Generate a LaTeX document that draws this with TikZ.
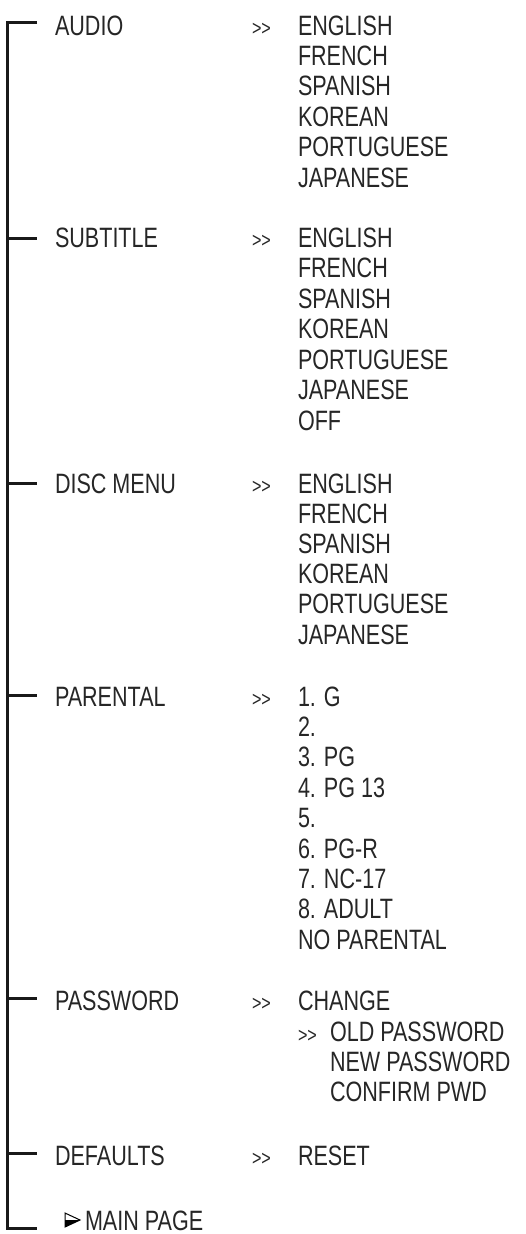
\documentclass[tikz,border=0pt]{standalone}
\usepackage{fontspec}
\setmainfont{Liberation Sans}[FakeStretch=0.77]
\begin{document}
\begin{tikzpicture}[x=1pt,y=-1pt,
  lbl/.style={anchor=base west,inner sep=0pt,outer sep=0pt,text=black!85,font=\fontsize{28}{30}\selectfont},
  arr/.style={anchor=base west,inner sep=0pt,outer sep=0pt,text=black!85,font=\fontsize{21}{30}\selectfont},
  branch/.style={line width=3pt,black!90,line cap=butt}]
\useasboundingbox (0,0) rectangle (526,1234);
% menu titles
\node[lbl] (audio) at (55,35) {AUDIO};
\node[lbl] (subtitle) at (55,247) {SUBTITLE};
\node[lbl] (disc) at (55,493) {DISC MENU};
\node[lbl] (parental) at (55,706) {PARENTAL};
\node[lbl] (password) at (55,1010) {PASSWORD};
\node[lbl] (defaults) at (55,1165) {DEFAULTS};
\node[lbl] (main) at (85,1230) {MAIN PAGE};
% >> markers
\node[arr] (a1) at (252,35) {>{}>};
\node[arr] (a2) at (252,247) {>{}>};
\node[arr] (a3) at (252,493) {>{}>};
\node[arr] (a4) at (252,706) {>{}>};
\node[arr] (a5) at (252,1010) {>{}>};
\node[arr] (a6) at (252,1165) {>{}>};
\node[arr] (a7) at (298,1042) {>{}>};
% option lists
\foreach \t [count=\i] in {ENGLISH,FRENCH,SPANISH,KOREAN,PORTUGUESE,JAPANESE}
  \node[lbl] (au\i) at (298,35+30.4*\i-30.4) {\t};
\foreach \t [count=\i] in {ENGLISH,FRENCH,SPANISH,KOREAN,PORTUGUESE,JAPANESE,OFF}
  \node[lbl] (su\i) at (298,247+30.5*\i-30.5) {\t};
\foreach \t [count=\i] in {ENGLISH,FRENCH,SPANISH,KOREAN,PORTUGUESE,JAPANESE}
  \node[lbl] (di\i) at (298,493+30.2*\i-30.2) {\t};
\foreach \t [count=\i] in {1. G,2.,3. PG,4. PG 13,5.,6. PG-R,7. NC-17,8. ADULT,NO PARENTAL}
  \node[lbl] (pa\i) at (298,706+30.4*\i-30.4) {\t};
\node[lbl] (pw1) at (298,1010) {CHANGE};
\node[lbl] (pw2) at (330,1041) {OLD PASSWORD};
\node[lbl] (pw3) at (330,1071) {NEW PASSWORD};
\node[lbl] (pw4) at (330,1101) {CONFIRM PWD};
\node[lbl] (de1) at (298,1165) {RESET};
% tree
\coordinate (s1) at (7.5,22);
\coordinate (s2) at (7.5,238);
\coordinate (s3) at (7.5,483);
\coordinate (s4) at (7.5,695);
\coordinate (s5) at (7.5,998);
\coordinate (s6) at (7.5,1153);
\coordinate (s7) at (7.5,1228);
\coordinate (t1) at (37,22);
\coordinate (t2) at (37,238);
\coordinate (t3) at (37,483);
\coordinate (t4) at (37,695);
\coordinate (t5) at (37,998);
\coordinate (t6) at (37,1153);
\coordinate (t7) at (37,1228);
\draw[branch,line join=miter] (t1) -- (s1) -- (s7) -- (t7);
\foreach \k in {2,...,6} \draw[branch] (s\k) -- (t\k);
% pointer triangle
\coordinate (tri1) at (65,1213);
\coordinate (tri2) at (80,1220);
\coordinate (tri3) at (65,1227);
\coordinate (trim) at (65,1220);
\fill[black] (trim) -- (tri2) -- (tri3) -- cycle;
\draw[line width=1pt,line join=miter] (tri1) -- (tri2) -- (tri3) -- cycle;
\end{tikzpicture}
\end{document}
